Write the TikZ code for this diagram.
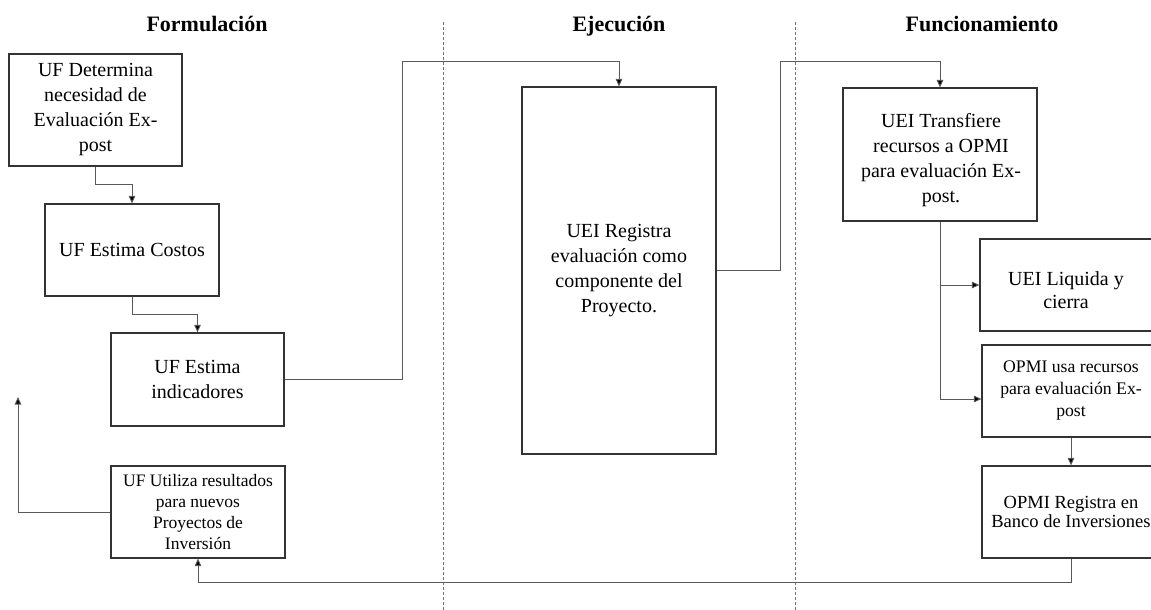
\documentclass[tikz,border=0pt]{standalone}
\usepackage{fontspec}
\setmainfont{Liberation Serif}
\usetikzlibrary{arrows.meta,calc}
\begin{document}
\begin{tikzpicture}[x=1pt,y=-1pt,
  box/.style={draw=black!80,line width=1.2pt,rectangle,inner sep=0pt,align=center,text=black},
  mainf/.style={font=\fontsize{20}{25}\selectfont},
  txt/.style={align=center,inner sep=0pt,text=black},
  arr/.style={draw=black!65,line width=0.9pt,-{Triangle[length=7.5pt,width=6.5pt,fill=black]}},
  lane/.style={draw=black!55,line width=0.8pt,dash pattern=on 3pt off 2pt},
  title/.style={font=\fontsize{22}{26}\selectfont\bfseries,anchor=base}]
\useasboundingbox (0,0) rectangle (1151,610);
\begin{scope}
\clip (0,0) rectangle (1151,610);
% titles
\node[title] (t1) at (207,32) {Formulación};
\node[title] (t2) at (619,32) {Ejecución};
\node[title] (t3) at (982,32) {Funcionamiento};
% lane separators
\coordinate (l1a) at (443,22); \coordinate (l1b) at (443,610);
\coordinate (l2a) at (795,22); \coordinate (l2b) at (795,610);
\draw[lane] (l1a) -- (l1b);
\draw[lane] (l2a) -- (l2b);
% boxes
\node[box,mainf,minimum width=173pt,minimum height=112pt] (A) at (95.5,110) {UF Determina\\necesidad de\\Evaluación Ex-\\post};
\node[box,mainf,minimum width=174pt,minimum height=92pt] (B) at (132,250) {UF Estima Costos};
\node[box,mainf,minimum width=173pt,minimum height=93pt] (C) at (197.5,379.5) {UF Estima\\indicadores};
\node[box,font=\fontsize{17.5}{21}\selectfont,minimum width=174pt,minimum height=92pt] (I) at (198,512) {UF Utiliza resultados\\para nuevos\\Proyectos de\\Inversión};
\node[box,mainf,minimum width=194pt,minimum height=367pt] (D) at (619,270.5) {UEI Registra\\evaluación como\\componente del\\Proyecto.};
\node[box,minimum width=194pt,minimum height=133pt] (E) at (940,154.5) {};
\node[txt,mainf] (Et) at (941,160) {UEI Transfiere\\recursos a OPMI\\para evaluación Ex-\\post.};
\node[box,minimum width=176pt,minimum height=92pt] (G) at (1068,285) {};
\node[txt,font=\fontsize{20}{23}\selectfont] (Gt) at (1066,290) {UEI Liquida y\\cierra};
\node[box,font=\fontsize{17.7}{22}\selectfont,minimum width=178pt,minimum height=92pt] (F) at (1071,391) {OPMI usa recursos\\para evaluación Ex-\\post};
\node[box,font=\fontsize{18.5}{19.5}\selectfont,minimum width=178pt,minimum height=92pt] (H) at (1071,512) {OPMI Registra en\\Banco de Inversiones};
% connectors
\draw[arr] (A.south) -- ++(0,18) -| (B.north);
\draw[arr] (B.south) -- ++(0,18) -| (C.north);
\draw[arr] (C.east) -| ($(D.north)+(-217,-25)$) -| (D.north);
\draw[arr] (D.east) -| ($(E.north)+(-160,-26)$) -| (E.north);
\draw[arr] (E.south) |- ([yshift=-8pt]F.west);
\draw[arr] (E.south |- G.west) -- (G.west);
\draw[arr] (F.south) -- (H.north);
\draw[arr] (H.south) -- ++(0,24) -| (I.south);
\coordinate (fb) at (18,397);
\draw[arr] (I.west) -| (fb);
\end{scope}
\end{tikzpicture}
\end{document}
